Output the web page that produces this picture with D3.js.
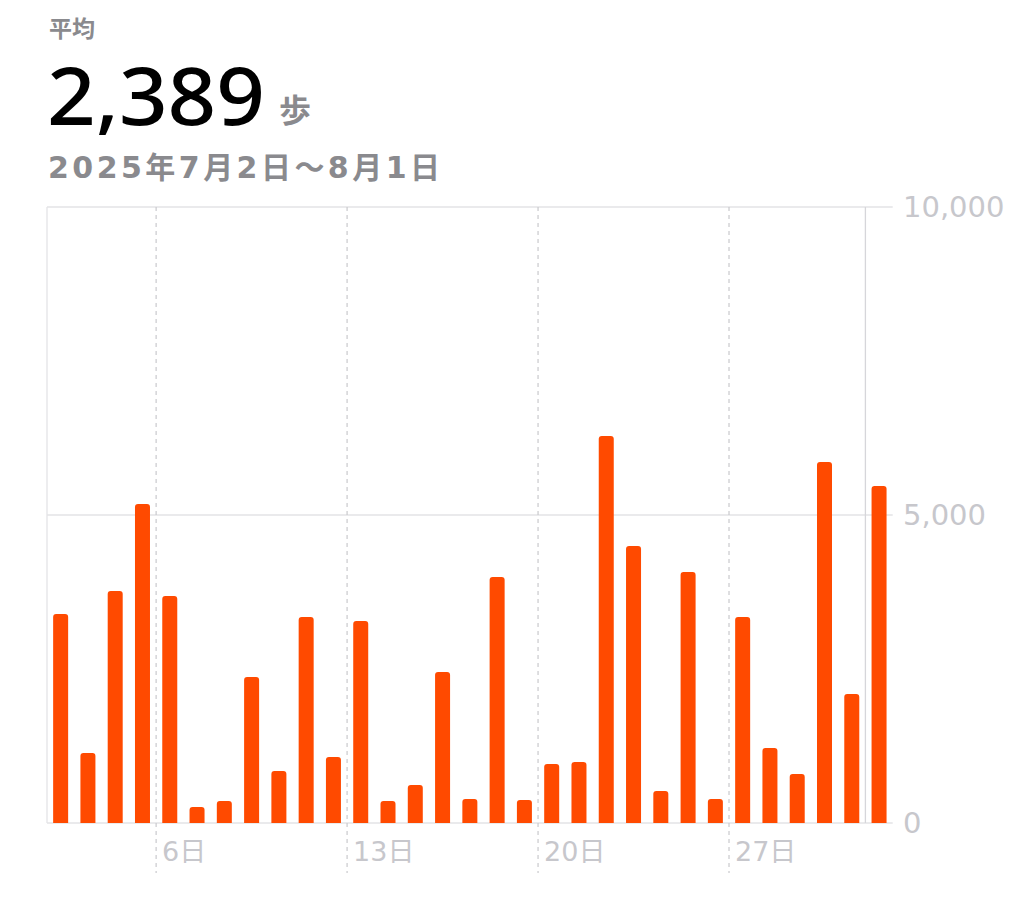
<!DOCTYPE html>
<meta charset="utf-8">
<style>
body { margin: 0; background: #fff; }
</style>
<body>
<script src="https://cdn.jsdelivr.net/npm/d3@7"></script>
<script>

var days = d3.range(2, 32).map(function(d) { return "7/" + d; }).concat(["8/1"]);
var steps = [3393, 1136, 3766, 5179, 3685, 260, 357, 2370, 844, 3344,
             1071, 3279, 357, 617, 2451, 390, 3994, 373, 958, 990,
             6282, 4497, 519, 4075, 390, 3344, 1218, 795, 5860, 2094, 5471];
var yTicks = [0, 5000, 10000];
var xTicks = [["7/6", "6日"], ["7/13", "13日"], ["7/20", "20日"], ["7/27", "27日"]];

var width = 1024, height = 919;
var plotL = 47, plotR = 892.7, plotT = 207, plotB = 823;
var cjk = "'Noto Sans CJK JP', 'Noto Sans', sans-serif";
var latin = "'DejaVu Sans', 'Noto Sans CJK JP', sans-serif";

var svg = d3.select("body").append("svg")
    .attr("width", width)
    .attr("height", height);

// header
svg.append("text").attr("x", 49).attr("y", 37)
    .style("font-family", cjk)
    .attr("font-size", 23).attr("font-weight", 700).attr("fill", "#8a8a8e")
    .text("平均");
svg.append("text").attr("x", 47).attr("y", 125)
    .style("font-family", "'Noto Sans', sans-serif")
    .attr("font-size", 80).attr("font-weight", 500).attr("fill", "#000")
    .attr("textLength", 218).attr("lengthAdjust", "spacingAndGlyphs")
    .text("2,389");
svg.append("text").attr("x", 279).attr("y", 122)
    .style("font-family", cjk)
    .attr("font-size", 32).attr("font-weight", 700).attr("fill", "#8a8a8e")
    .text("歩");
svg.append("text").attr("x", 48).attr("y", 178)
    .style("font-family", latin)
    .attr("font-size", 30).attr("font-weight", 700).attr("fill", "#8a8a8e")
    .attr("textLength", 392).attr("lengthAdjust", "spacing")
    .text("2025年7月2日〜8月1日");

var x = d3.scaleBand().domain(days).range([plotL, plotR])
    .paddingInner(0.45).paddingOuter(0.225);
var step = x.step();
var y = d3.scaleLinear().domain([0, 10000]).range([plotB, plotT]);

function dayStart(d) { return x(d) - step * 0.45 / 2; }

// grid
svg.selectAll(".hgrid").data(yTicks).enter().append("line")
    .attr("x1", plotL).attr("x2", plotR)
    .attr("y1", function(d) { return y(d); })
    .attr("y2", function(d) { return y(d); })
    .attr("stroke", "#e3e3e6").attr("stroke-width", 1.3);

svg.append("line")
    .attr("x1", plotL).attr("x2", plotL).attr("y1", plotT).attr("y2", plotB)
    .attr("stroke", "#e3e3e6").attr("stroke-width", 1.3);
svg.append("line")
    .attr("x1", dayStart("8/1")).attr("x2", dayStart("8/1"))
    .attr("y1", plotT).attr("y2", plotB)
    .attr("stroke", "#d6d6da").attr("stroke-width", 1.3);

svg.selectAll(".vgrid").data(xTicks).enter().append("line")
    .attr("x1", function(d) { return dayStart(d[0]); })
    .attr("x2", function(d) { return dayStart(d[0]); })
    .attr("y1", plotT).attr("y2", 873)
    .attr("stroke", "#c9c9cd").attr("stroke-width", 1.2)
    .attr("stroke-dasharray", "4,4");

// bars with rounded tops
var r = 3;
svg.selectAll(".bar").data(steps).enter().append("path")
    .attr("fill", "#ff4a00")
    .attr("d", function(d, i) {
      var x0 = x(days[i]), w = x.bandwidth(), y0 = y(d);
      return "M" + x0 + "," + plotB +
             "V" + (y0 + r) +
             "Q" + x0 + "," + y0 + " " + (x0 + r) + "," + y0 +
             "H" + (x0 + w - r) +
             "Q" + (x0 + w) + "," + y0 + " " + (x0 + w) + "," + (y0 + r) +
             "V" + plotB + "Z";
    });

// axis labels
svg.selectAll(".ylab").data(yTicks).enter().append("text")
    .attr("x", 903).attr("y", function(d) { return y(d); })
    .attr("dy", "0.36em")
    .style("font-family", latin)
    .attr("font-size", 29).attr("fill", "#c7c7cc")
    .text(function(d) { return d3.format(",")(d); });

svg.selectAll(".xlab").data(xTicks).enter().append("text")
    .attr("x", function(d) { return dayStart(d[0]) + 6; })
    .attr("y", 861)
    .style("font-family", latin)
    .attr("font-size", 27).attr("fill", "#c7c7cc")
    .text(function(d) { return d[1]; });

</script>
</body>
